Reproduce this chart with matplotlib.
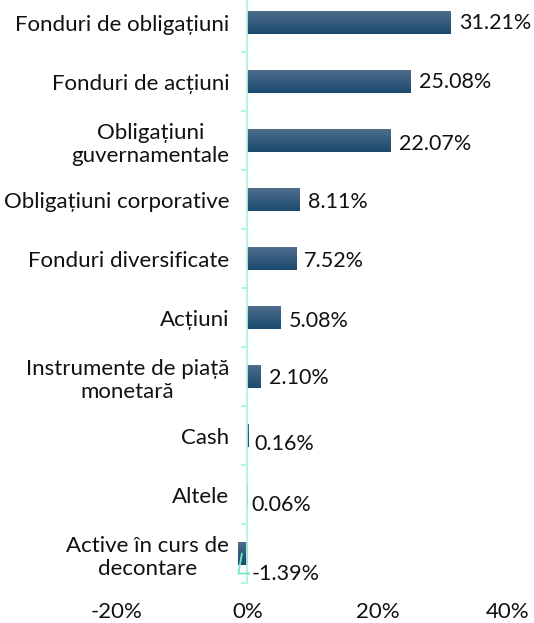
import numpy as np
import matplotlib
matplotlib.use("Agg")
import matplotlib.pyplot as plt
from matplotlib.colors import LinearSegmentedColormap
from matplotlib.ticker import FuncFormatter, FixedLocator

categories = [
    "Fonduri de obligațiuni",
    "Fonduri de acțiuni",
    "Obligațiuni\nguvernamentale",
    "Obligațiuni corporative",
    "Fonduri diversificate",
    "Acțiuni",
    "Instrumente de piață\nmonetară",
    "Cash",
    "Altele",
    "Active în curs de\ndecontare",
]
values = [31.21, 25.08, 22.07, 8.11, 7.52, 5.08, 2.10, 0.16, 0.06, -1.39]
x_ticks = [-20, 0, 20, 40]

# label nudges in pixels (dx, dy downward)
label_nudge = [(8, 0), (8, 0), (8, 3), (8, 2), (8, 2), (8, 3), (8, 1), (6, 8), (4, 10), (1, 20)]

plt.rcParams["font.family"] = ["Lato", "DejaVu Sans"]
FS = 16
FS_VAL = 15.5

fig = plt.figure(figsize=(5.34, 6.23), dpi=100)
ax = fig.add_axes([117 / 534, 1 - 583 / 623, 391 / 534, 590 / 623])

n = len(categories)
ypos = np.arange(n)
bar_h = 0.39
bars = ax.barh(ypos, values, height=bar_h, color="#1f4e74", zorder=2)

cmap = LinearSegmentedColormap.from_list("bar", ["#526e8c", "#1a4a6f"])
grad = np.linspace(0, 1, 64).reshape(-1, 1)
for b in bars:
    x0, y0 = b.get_x(), b.get_y()
    w, h = b.get_width(), b.get_height()
    im = ax.imshow(grad, cmap=cmap, aspect="auto", origin="upper",
                   extent=(x0, x0 + w, y0 + h, y0), zorder=3,
                   interpolation="bilinear")
    im.set_clip_path(b)

ax.set_xlim(-20, 40)
ax.set_ylim(n - 0.5, -0.5)

axis_col = "#aef5e2"
for s in ("top", "right", "bottom"):
    ax.spines[s].set_visible(False)
ax.spines["left"].set_position(("data", 0))
ax.spines["left"].set_color(axis_col)
ax.spines["left"].set_linewidth(1.3)
ax.spines["left"].set_zorder(4)

ax.set_yticks(ypos)
ax.set_yticklabels(categories, fontsize=FS, color="#111111", multialignment="center")
ax.yaxis.set_minor_locator(FixedLocator(np.arange(-0.5, n, 1.0)))
ax.tick_params(axis="y", which="major", length=0, pad=13)
ax.tick_params(axis="y", which="minor", length=4, width=1.3, color=axis_col, direction="out")

ax.set_xticks(x_ticks)
ax.xaxis.set_major_formatter(FuncFormatter(lambda v, p: f"{v:.0f}%"))
ax.tick_params(axis="x", length=0, pad=14, labelsize=FS, labelcolor="#111111")

for i, (v, (dx, dy)) in enumerate(zip(values, label_nudge)):
    txt = f"{v:.2f}%"
    if v < 0:
        ax.annotate(txt, xy=(v * 0.6, i + 0.0), xycoords="data",
                    xytext=(dx * 0.72, -dy * 0.72), textcoords=("data", "offset points"),
                    fontsize=FS_VAL, color="#111111", ha="left", va="center",
                    arrowprops=dict(arrowstyle="-", color="#6fe8c4", lw=1.3,
                                    connectionstyle="angle,angleA=0,angleB=80,rad=0",
                                    shrinkA=0, shrinkB=0),
                    zorder=5)
    else:
        ax.annotate(txt, xy=(v, i), xycoords="data",
                    xytext=(dx * 0.72, -dy * 0.72), textcoords="offset points",
                    fontsize=FS_VAL, color="#111111", ha="left", va="center", zorder=5)

fig.savefig("out.png", dpi=100)
